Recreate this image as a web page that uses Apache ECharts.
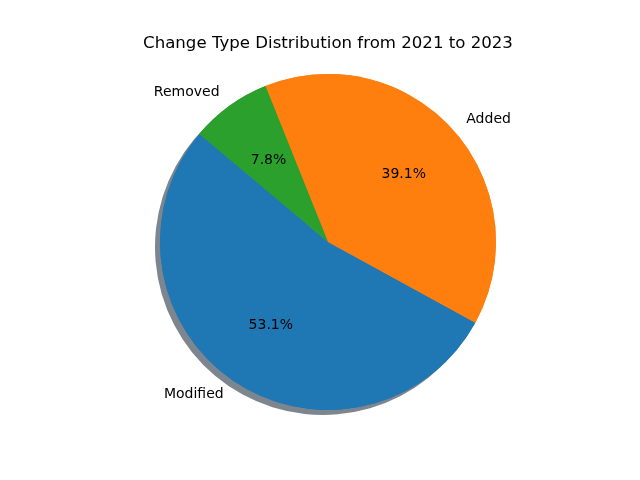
<!DOCTYPE html>
<html>
<head>
<meta charset="utf-8">
<script src="https://cdn.jsdelivr.net/npm/echarts@6/dist/echarts.min.js"></script>
<style>
  html, body { margin: 0; padding: 0; background: #fff; }
  #root { width: 640px; height: 480px; }
</style>
</head>
<body>
<div id="root"></div>
<script>
// 分类与数值
var categories = ['Modified', 'Added', 'Removed'];
var counts = [68, 50, 10];
var colors = ['#1f77b4', '#ff7f0e', '#2ca02c'];

var font = 'DejaVu Sans';
var cx = 328, cy = 242, R = 168;

var data = categories.map(function (name, i) {
    return { name: name, value: counts[i], itemStyle: { color: colors[i] } };
});

var myChart = echarts.init(document.getElementById('root'), null, { renderer: 'canvas' });

var option = {
    animation: false,
    backgroundColor: '#fff',
    title: {
        text: 'Change Type Distribution from 2021 to 2023',
        left: cx - 5,
        top: 30,
        textAlign: 'center',
        textStyle: { fontFamily: font, fontSize: 16.6, fontWeight: 'normal', color: '#000' }
    },
    series: [
        {
            // 阴影
            type: 'pie',
            silent: true,
            center: [cx - 5, cy + 5],
            radius: [0, R],
            startAngle: 140,
            clockwise: false,
            label: { show: false },
            labelLine: { show: false },
            itemStyle: { color: '#7d868e', borderWidth: 0 },
            data: [{ name: 'shadow', value: 1 }]
        },
        {
            type: 'pie',
            silent: true,
            center: [cx, cy],
            radius: [0, R],
            startAngle: 140,
            clockwise: false,
            avoidLabelOverlap: false,
            itemStyle: { borderWidth: 0 },
            label: {
                show: true,
                position: 'outside',
                formatter: '{b}',
                distanceToLabelLine: 0,
                fontFamily: font,
                fontSize: 14,
                color: '#000'
            },
            labelLine: { show: false, length: R * 0.1, length2: 0 },
            data: data
        },
        {
            // 百分比
            type: 'pie',
            silent: true,
            center: [cx, cy],
            radius: [R * 0.2 - 5, R],
            startAngle: 140,
            clockwise: false,
            avoidLabelOverlap: false,
            itemStyle: { color: 'rgba(0,0,0,0)', borderWidth: 0 },
            label: {
                show: true,
                position: 'inside',
                formatter: function (p) { return p.percent.toFixed(1) + '%'; },
                fontFamily: font,
                fontSize: 14,
                color: '#000'
            },
            labelLine: { show: false },
            data: data
        }
    ]
};
myChart.setOption(option);
</script>
</body>
</html>
